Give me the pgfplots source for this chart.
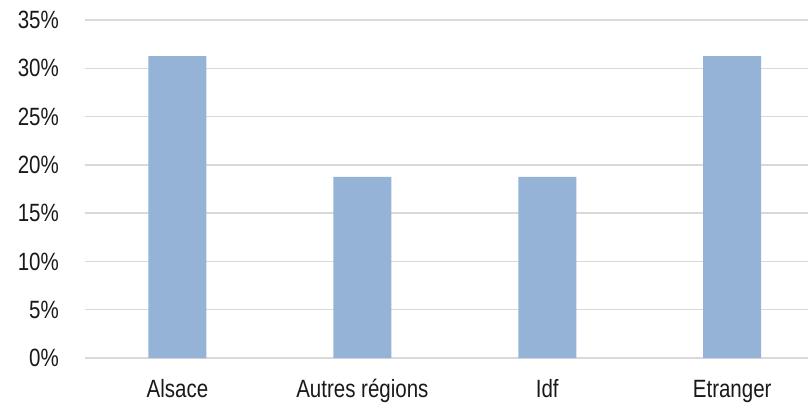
\documentclass[border=0pt]{standalone}
\usepackage{pgfplots}
\pgfplotsset{compat=1.18}
\usepackage{fontspec}
\setmainfont{Liberation Sans}[FakeStretch=0.82]
\definecolor{barblue}{RGB}{149,179,215}
\definecolor{gridgray}{RGB}{217,217,217}

\begin{document}
\begin{tikzpicture}
\useasboundingbox (-85bp,-48bp) rectangle (723bp,358bp);
\begin{axis}[
  at={(0,0)}, anchor=south west,
  scale only axis,
  width=723bp, height=338bp,
  xmin=-0.5, xmax=3.41,
  ymin=0, ymax=35,
  xtick={0,1,2,3},
  xticklabels={Alsace,Autres régions,Idf,Etranger},
  ytick={0,5,10,15,20,25,30,35},
  yticklabels={0\%,5\%,10\%,15\%,20\%,25\%,30\%,35\%},
  ymajorgrids,
  major grid style={gridgray, line width=1.3bp},
  axis line style={draw=none},
  major tick length=0pt,
  tick style={draw=none},
  ticklabel style={font=\fontsize{25bp}{30bp}\selectfont, text=black!90},
  yticklabel style={anchor=east, inner sep=0pt, xshift=-26bp},
  xticklabel style={anchor=base, inner sep=0pt, yshift=-39bp},
  clip=false,
]
\addplot[ybar, bar width=58bp, fill=barblue, draw=none] coordinates {
  (0,31.25) (1,18.75) (2,18.75) (3,31.25)
};
\end{axis}
\end{tikzpicture}
\end{document}
